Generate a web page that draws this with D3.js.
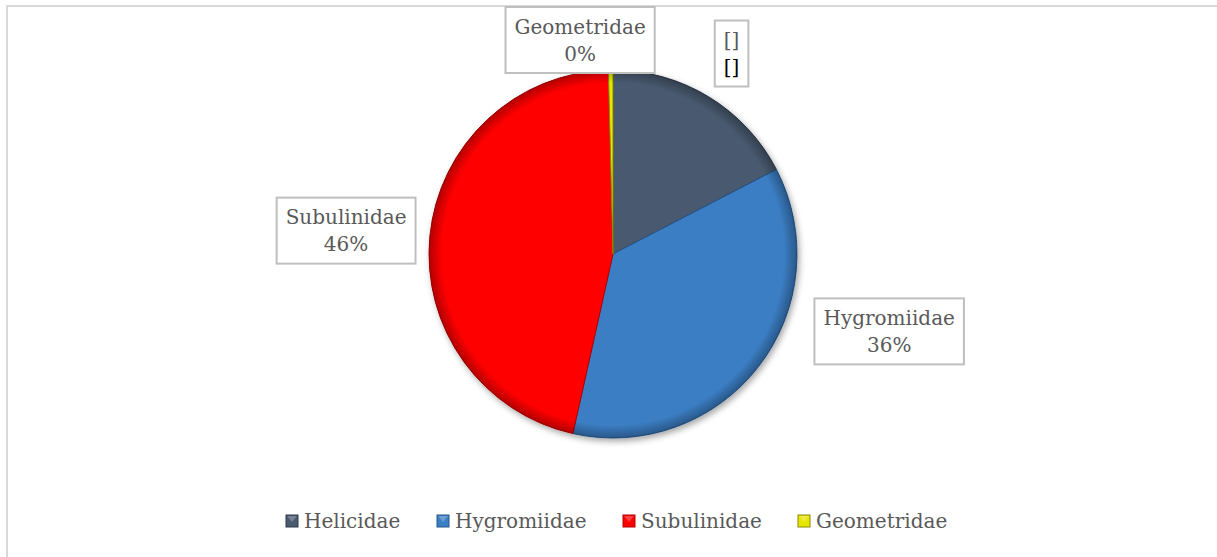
<!DOCTYPE html>
<html>
<head>
<meta charset="utf-8">
<script src="https://cdn.jsdelivr.net/npm/d3@7"></script>
<style>
  body { margin: 0; background: #fff; }
  svg text { font-family: "DejaVu Serif", "Liberation Serif", serif; fill: #595959; }
</style>
</head>
<body>
<div id="chart"></div>
<script>
// families + share of individuals (%)
const families = ["Helicidae", "Hygromiidae", "Subulinidae", "Geometridae"];
const shares = [17.4, 36.1, 46.1, 0.4];
const pctLabels = ["", "36%", "46%", "0%"];
const colors = ["#4a5a70", "#3a7ec4", "#ff0000", "#e6e600"];
const edgeColors = ["#2f3a49", "#25548a", "#b30000", "#8a8a00"];

const W = 1217, H = 557;
const cx = 613, cy = 254, r = 184;

const svg = d3.select("#chart").append("svg")
  .attr("width", W).attr("height", H);

// chart frame (right/bottom fall outside the picture)
svg.append("rect")
  .attr("x", 7).attr("y", 6)
  .attr("width", W + 20).attr("height", H + 20)
  .attr("fill", "#fff")
  .attr("stroke", "#d9d9d9").attr("stroke-width", 2);

const defs = svg.append("defs");
const shadow = defs.append("filter").attr("id", "shadow")
  .attr("x", "-20%").attr("y", "-20%").attr("width", "140%").attr("height", "140%");
shadow.append("feDropShadow")
  .attr("dx", 2).attr("dy", 3).attr("stdDeviation", 3)
  .attr("flood-color", "#000").attr("flood-opacity", 0.35);

const rim = defs.append("radialGradient").attr("id", "rim")
  .attr("cx", "50%").attr("cy", "50%").attr("r", "50%");
rim.append("stop").attr("offset", "93%").attr("stop-color", "#000").attr("stop-opacity", 0);
rim.append("stop").attr("offset", "100%").attr("stop-color", "#000").attr("stop-opacity", 0.3);

const pie = d3.pie().sort(null).value(d => d)(shares);
const arc = d3.arc().innerRadius(0).outerRadius(r);

const g = svg.append("g").attr("transform", `translate(${cx},${cy})`);

const slices = g.append("g").attr("filter", "url(#shadow)");
slices.selectAll("path")
  .data(pie)
  .join("path")
  .attr("d", arc)
  .attr("fill", (d, i) => colors[i])
  .attr("stroke", (d, i) => edgeColors[i])
  .attr("stroke-width", 1);

// bevel darkening near the rim
g.append("circle").attr("r", r).attr("fill", "url(#rim)").attr("pointer-events", "none");

// data labels: boxed, placed around the pie ("best fit" look)
const labelArc = d3.arc().innerRadius(r * 1.25).outerRadius(r * 1.25);
const nudge = [[-1, -4], [94, -63], [-38, -1], [-30, 16]];
const lineH = 27;

pie.forEach((d, i) => {
  const c = labelArc.centroid(d);
  const x = c[0] + nudge[i][0], y = c[1] + nudge[i][1];
  const lg = g.append("g").attr("transform", `translate(${x},${y})`);
  const lines = i === 0 ? ["[]", "[]"] : [families[i], pctLabels[i]];
  const box = lg.append("rect").attr("fill", "#fff").attr("stroke", "#bfbfbf").attr("stroke-width", 2);
  const t = lg.append("text").attr("text-anchor", "middle").style("font-size", "20px");
  lines.forEach((s, k) => {
    t.append("tspan").attr("x", 0).attr("y", (k - 0.5) * lineH + 7).text(s)
      .style("fill", i === 0 && k === 1 ? "#000" : null);
  });
  const bb = t.node().getBBox();
  const padX = 9;
  box.attr("x", bb.x - padX).attr("y", -lineH - 6)
     .attr("width", bb.width + padX * 2).attr("height", lineH * 2 + 12);
});

// legend
const legend = svg.append("g").attr("transform", "translate(0,521)");
const startX = [286, 437, 623, 798];
families.forEach((f, i) => {
  const item = legend.append("g").attr("transform", `translate(${startX[i]},0)`);
  item.append("rect").attr("x", 0).attr("y", -6).attr("width", 12).attr("height", 12)
    .attr("fill", colors[i]).attr("stroke", edgeColors[i]).attr("stroke-width", 1);
  item.append("path").attr("d", "M1,-5 L11,-5 L6,1 Z").attr("fill", "#fff").attr("opacity", 0.25);
  item.append("text").attr("x", 18).attr("y", 7).style("font-size", "20px").text(f);
});
</script>
</body>
</html>
